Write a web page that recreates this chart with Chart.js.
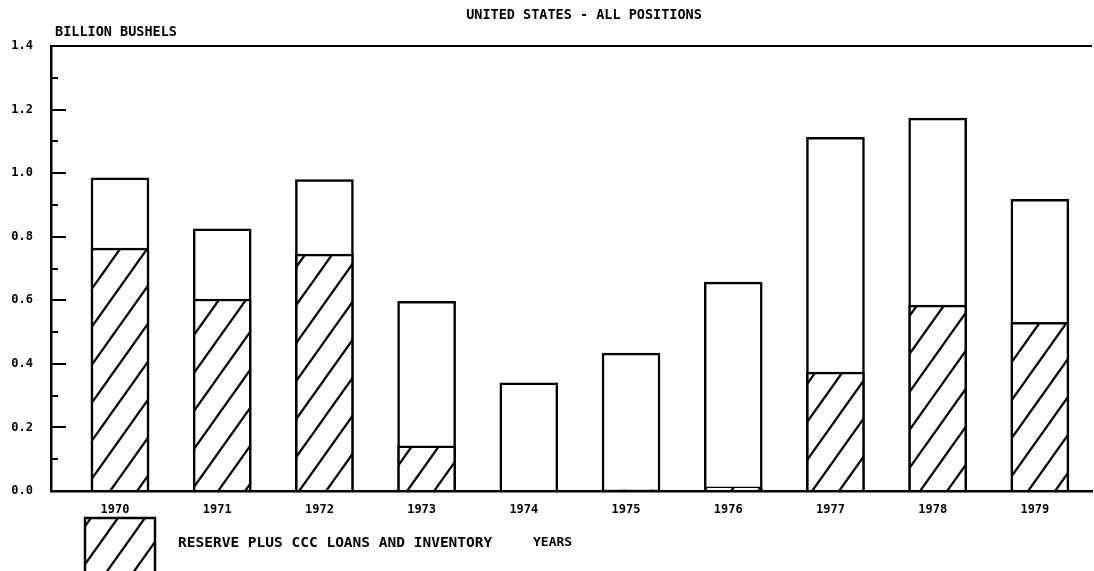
<!DOCTYPE html>
<html>
<head>
<meta charset="utf-8">
<script src="https://cdn.jsdelivr.net/npm/chart.js@4"></script>
<style>
  html, body { margin: 0; padding: 0; background: #ffffff; }
  canvas { display: block; }
</style>
</head>
<body>
<canvas id="c" width="1094" height="571"></canvas>
<script>
// ---- data ----
const categories = ['1970', '1971', '1972', '1973', '1974', '1975', '1976', '1977', '1978', '1979'];
const totalValues = [0.985, 0.825, 0.980, 0.597, 0.340, 0.434, 0.657, 1.113, 1.173, 0.918];
const reserveValues = [0.764, 0.604, 0.745, 0.142, 0.000, 0.004, 0.013, 0.374, 0.585, 0.531];
const yTickLabels = ['0.0', '0.2', '0.4', '0.6', '0.8', '1.0', '1.2', '1.4'];
const titleText = 'UNITED STATES - ALL POSITIONS';
const unitText = 'BILLION BUSHELS';
const reserveLabel = 'RESERVE PLUS CCC LOANS AND INVENTORY';
const totalLabel = 'TOTAL STOCKS';
const xTitleText = 'YEARS';

// ---- styles ----
const INK = '#000000';
const FONT = "'DejaVu Sans Mono', monospace";

function makeHatch() {
  const w = 27, h = 38;
  const c = document.createElement('canvas');
  c.width = w; c.height = h;
  const g = c.getContext('2d');
  g.fillStyle = '#ffffff';
  g.fillRect(0, 0, w, h);
  g.strokeStyle = INK;
  g.lineWidth = 2.2;
  g.lineCap = 'square';
  for (const dx of [-w, 0, w]) {
    g.beginPath();
    g.moveTo(dx, h);
    g.lineTo(dx + w, 0);
    g.stroke();
  }
  return g.createPattern(c, 'repeat');
}
const ctx = document.getElementById('c').getContext('2d');
const hatch = makeHatch();

const toPoints = arr => arr.map((v, i) => ({ x: i, y: v }));

// inward y tick marks
const innerTicks = {
  id: 'innerTicks',
  afterDatasetsDraw(chart) {
    const y = chart.scales.y;
    const left = chart.chartArea.left;
    const g = chart.ctx;
    g.save();
    g.strokeStyle = INK;
    g.lineWidth = 2;
    for (let k = 0; k <= 14; k++) {
      const v = k / 10;
      const py = Math.round(y.getPixelForValue(v));
      const len = (k % 2 === 0) ? 15 : 7;
      g.beginPath();
      g.moveTo(left, py);
      g.lineTo(left + len, py);
      g.stroke();
    }
    g.restore();
  }
};

// annotation texts + legend
const annotations = {
  id: 'annotations',
  afterDraw(chart) {
    const g = chart.ctx;
    g.save();
    g.fillStyle = INK;
    g.textBaseline = 'middle';
    g.font = 'bold 13.5px ' + FONT;
    g.textAlign = 'center';
    g.fillText(titleText, 584, 15);
    g.textAlign = 'left';
    g.fillText(unitText, 55, 32);
    // legend
    const bx = 85, by = 518, bw = 70, bh = 70;
    g.fillStyle = chart.data.datasets[0].backgroundColor;
    g.fillRect(bx, by, bw, bh);
    g.strokeStyle = INK;
    g.lineWidth = 2.5;
    g.strokeRect(bx, by, bw, bh);
    g.fillStyle = INK;
    g.font = 'bold 14.5px ' + FONT;
    g.fillText(chart.data.datasets[0].label, 178, 543);
    g.font = 'bold 13px ' + FONT;
    g.fillText(xTitleText, 533, 543);
    g.restore();
  }
};

new Chart(ctx, {
  type: 'bar',
  data: {
    datasets: [
      {
        label: reserveLabel,
        data: toPoints(reserveValues),
        backgroundColor: hatch,
        borderColor: INK,
        borderWidth: 2.5,
        grouped: false,
        barThickness: 58
      },
      {
        label: totalLabel,
        data: toPoints(totalValues),
        backgroundColor: '#ffffff',
        borderColor: INK,
        borderWidth: 2.5,
        grouped: false,
        barThickness: 58
      }
    ]
  },
  options: {
    responsive: false,
    animation: false,
    devicePixelRatio: 1,
    layout: { padding: { top: 46, right: 2, left: 0, bottom: 0 } },
    plugins: {
      legend: { display: false },
      tooltip: { enabled: false },
      title: { display: false }
    },
    scales: {
      x: {
        type: 'linear',
        offset: false,
        min: -0.675,
        max: 9.51,
        afterFit(scale) { scale.height = 80; },
        afterBuildTicks(scale) {
          scale.ticks = categories.map((_, i) => ({ value: i }));
        },
        grid: { display: false, drawTicks: false, offset: false },
        border: { display: true, color: INK, width: 2.5 },
        ticks: {
          autoSkip: false,
          maxRotation: 0,
          padding: 12,
          labelOffset: -5,
          color: INK,
          font: { family: FONT, size: 12, weight: 'bold' },
          callback: v => categories[v] !== undefined ? categories[v] : ''
        }
      },
      y: {
        min: 0,
        max: 1.4,
        afterFit(scale) { scale.width = 51; },
        afterBuildTicks(scale) {
          scale.ticks = yTickLabels.map(t => ({ value: parseFloat(t) }));
        },
        grid: {
          drawTicks: false,
          drawOnChartArea: true,
          lineWidth: 2,
          color: c => (c.tick && Math.abs(c.tick.value - 1.4) < 1e-6) ? INK : 'rgba(0,0,0,0)'
        },
        border: { display: true, color: INK, width: 2.5 },
        ticks: {
          padding: 18,
          color: INK,
          font: { family: FONT, size: 12, weight: 'bold' },
          callback: (v) => {
            const i = yTickLabels.findIndex(t => Math.abs(parseFloat(t) - v) < 1e-6);
            return i >= 0 ? yTickLabels[i] : '';
          }
        }
      }
    }
  },
  plugins: [innerTicks, annotations]
});
</script>
</body>
</html>
